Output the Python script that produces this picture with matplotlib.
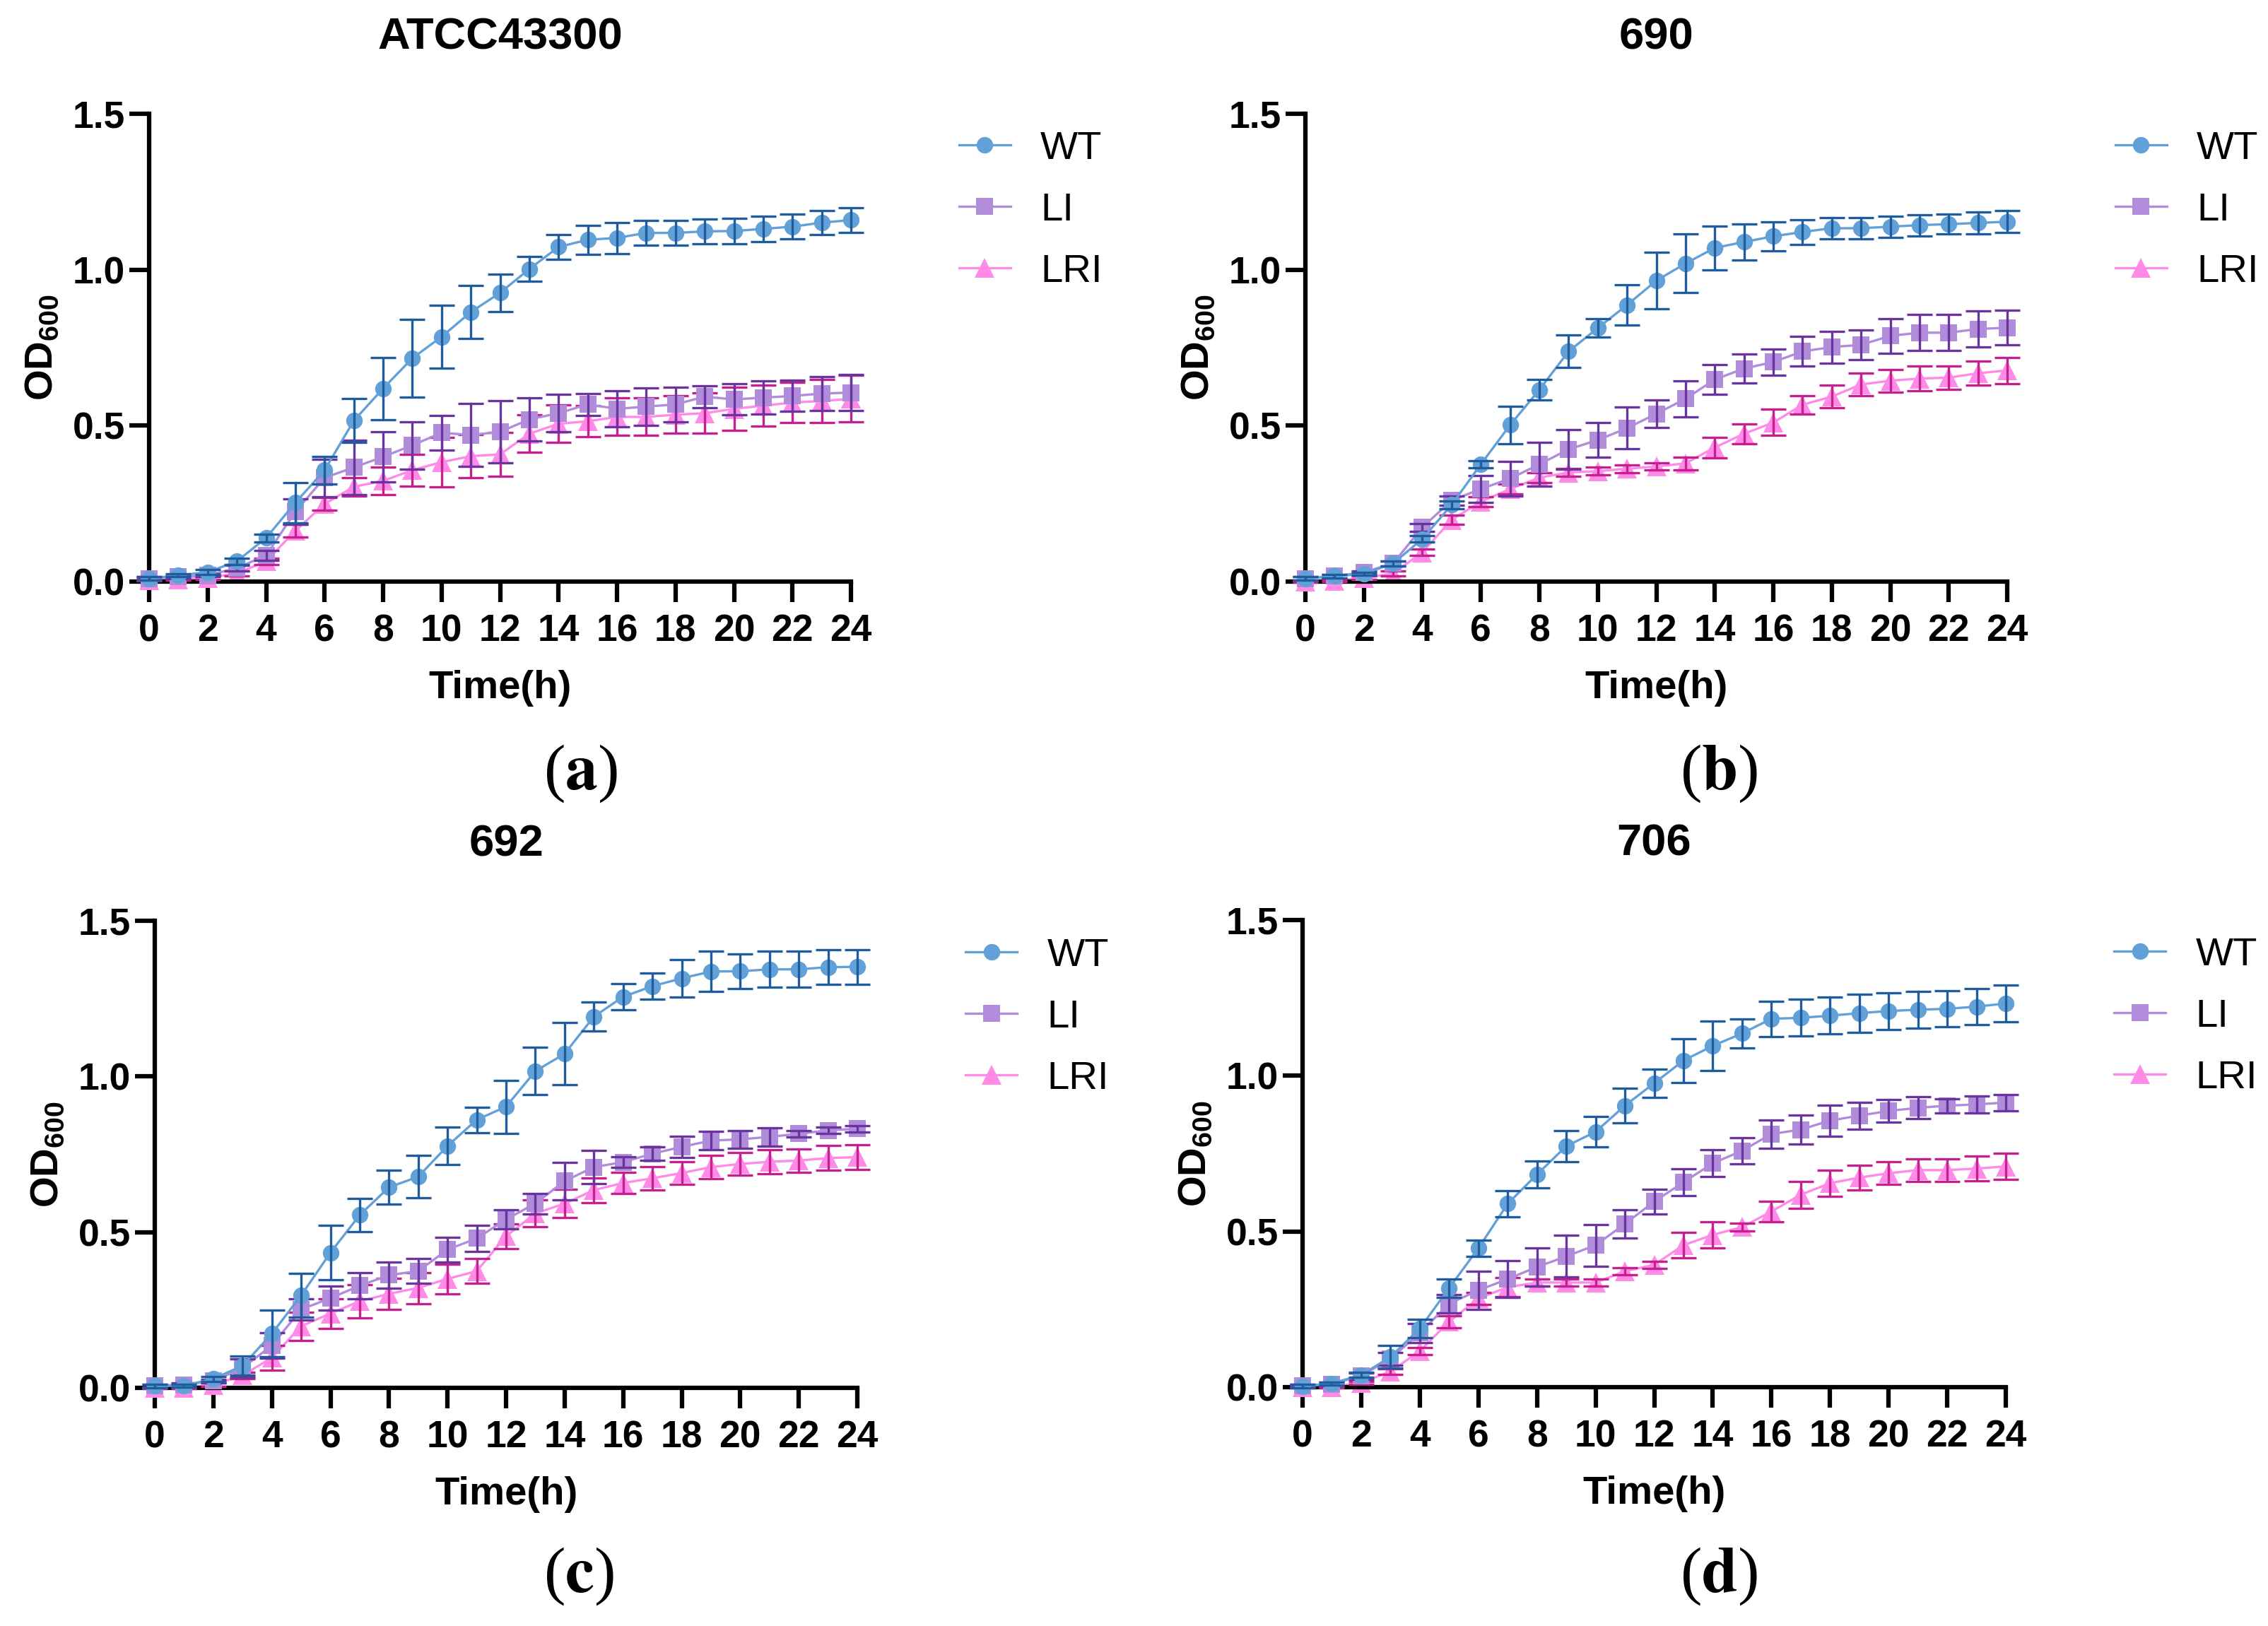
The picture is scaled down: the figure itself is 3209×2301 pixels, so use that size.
import numpy as np
import matplotlib
matplotlib.use("Agg")
import matplotlib.pyplot as plt
from matplotlib.lines import Line2D

plt.rcParams['font.family'] = ['Liberation Sans', 'DejaVu Sans']
plt.rcParams['mathtext.fontset'] = 'custom'
plt.rcParams['mathtext.rm'] = 'Liberation Sans'
plt.rcParams['mathtext.bf'] = 'Liberation Sans:bold'

time_h = list(range(25))
series_names = ["WT", "LI", "LRI"]
panel_titles = ["ATCC43300", "690", "692", "706"]
panel_tags = ["a", "b", "c", "d"]

# ---- panel (a) ATCC43300
WT_a = [0.01,0.02,0.03,0.065,0.14,0.253,0.357,0.516,0.619,0.716,0.785,0.864,0.926,1.002,1.073,1.096,1.102,1.118,1.118,1.123,1.124,1.131,1.138,1.151,1.159]
WT_a_err = [0.005,0.005,0.008,0.01,0.012,0.064,0.045,0.07,0.1,0.124,0.1,0.085,0.06,0.04,0.04,0.047,0.05,0.04,0.04,0.04,0.04,0.04,0.04,0.038,0.04]
LI_a = [0.01,0.015,0.02,0.043,0.084,0.224,0.333,0.366,0.40,0.437,0.477,0.47,0.48,0.52,0.54,0.568,0.554,0.561,0.568,0.593,0.584,0.59,0.595,0.603,0.606]
LI_a_err = [0.005,0.005,0.005,0.01,0.015,0.04,0.06,0.087,0.08,0.076,0.056,0.1,0.1,0.07,0.06,0.035,0.057,0.06,0.055,0.035,0.05,0.053,0.05,0.055,0.057]
LRI_a = [0.005,0.007,0.012,0.026,0.065,0.163,0.249,0.304,0.323,0.357,0.383,0.402,0.408,0.474,0.506,0.514,0.528,0.528,0.535,0.54,0.554,0.564,0.574,0.579,0.586]
LRI_a_err = [0.003,0.003,0.005,0.008,0.01,0.02,0.02,0.03,0.045,0.05,0.08,0.07,0.07,0.06,0.06,0.05,0.06,0.06,0.06,0.065,0.07,0.065,0.065,0.07,0.075]

# ---- panel (b) 690
WT_b = [0.01,0.017,0.025,0.058,0.137,0.246,0.376,0.502,0.615,0.738,0.813,0.887,0.965,1.02,1.07,1.089,1.107,1.121,1.133,1.133,1.138,1.143,1.146,1.15,1.154]
WT_b_err = [0.005,0.005,0.005,0.008,0.01,0.012,0.012,0.06,0.033,0.052,0.03,0.064,0.09,0.094,0.07,0.057,0.047,0.04,0.033,0.035,0.034,0.034,0.032,0.035,0.035]
LI_b = [0.01,0.017,0.03,0.058,0.174,0.26,0.297,0.33,0.376,0.424,0.454,0.492,0.538,0.586,0.648,0.683,0.704,0.738,0.752,0.759,0.788,0.798,0.798,0.81,0.814]
LI_b_err = [0.005,0.005,0.005,0.008,0.012,0.015,0.043,0.055,0.07,0.064,0.056,0.067,0.045,0.058,0.047,0.047,0.042,0.048,0.051,0.047,0.055,0.058,0.058,0.058,0.056]
LRI_b = [0.0,0.003,0.012,0.026,0.094,0.198,0.256,0.297,0.333,0.35,0.354,0.362,0.369,0.379,0.43,0.474,0.51,0.567,0.593,0.632,0.644,0.651,0.654,0.668,0.677]
LRI_b_err = [0.003,0.003,0.005,0.008,0.01,0.015,0.015,0.015,0.015,0.012,0.012,0.012,0.012,0.02,0.033,0.032,0.042,0.03,0.036,0.036,0.036,0.04,0.038,0.038,0.042]

# ---- panel (c) 692
WT_c = [0.006,0.007,0.029,0.071,0.174,0.297,0.434,0.555,0.644,0.678,0.777,0.861,0.903,1.017,1.073,1.192,1.256,1.29,1.315,1.337,1.338,1.344,1.344,1.351,1.352]
WT_c_err = [0.005,0.005,0.008,0.03,0.075,0.07,0.087,0.054,0.054,0.068,0.06,0.041,0.085,0.076,0.1,0.046,0.043,0.043,0.061,0.065,0.056,0.058,0.058,0.056,0.056]
LI_c = [0.007,0.01,0.022,0.064,0.136,0.252,0.288,0.328,0.362,0.375,0.444,0.48,0.541,0.592,0.664,0.709,0.725,0.752,0.774,0.794,0.798,0.806,0.816,0.827,0.832]
LI_c_err = [0.005,0.005,0.005,0.03,0.04,0.035,0.038,0.043,0.043,0.04,0.04,0.043,0.031,0.033,0.06,0.053,0.017,0.022,0.034,0.029,0.029,0.029,0.01,0.01,0.01]
LRI_c = [0.0,0.0,0.01,0.04,0.097,0.198,0.239,0.278,0.302,0.321,0.35,0.375,0.487,0.56,0.592,0.635,0.658,0.673,0.69,0.709,0.719,0.726,0.73,0.738,0.741]
LRI_c_err = [0.003,0.003,0.005,0.01,0.04,0.045,0.048,0.053,0.05,0.05,0.048,0.04,0.04,0.043,0.046,0.04,0.034,0.037,0.037,0.037,0.036,0.039,0.038,0.04,0.04]

# ---- panel (d) 706
WT_d = [0.003,0.012,0.039,0.097,0.188,0.318,0.446,0.589,0.683,0.774,0.82,0.904,0.976,1.049,1.096,1.136,1.183,1.186,1.193,1.201,1.208,1.212,1.215,1.222,1.232]
WT_d_err = [0.005,0.005,0.008,0.036,0.03,0.029,0.027,0.041,0.044,0.05,0.049,0.055,0.045,0.07,0.079,0.047,0.057,0.059,0.059,0.061,0.059,0.059,0.058,0.058,0.059]
LI_d = [0.004,0.01,0.036,0.091,0.174,0.268,0.311,0.347,0.386,0.42,0.456,0.524,0.596,0.658,0.719,0.759,0.813,0.827,0.856,0.872,0.887,0.897,0.904,0.908,0.914]
LI_d_err = [0.005,0.005,0.01,0.02,0.03,0.03,0.061,0.059,0.061,0.067,0.067,0.046,0.04,0.043,0.043,0.043,0.045,0.047,0.05,0.043,0.036,0.035,0.023,0.027,0.026]
LRI_d = [0.0,0.0,0.014,0.05,0.116,0.21,0.285,0.321,0.336,0.336,0.336,0.372,0.393,0.456,0.489,0.514,0.564,0.618,0.655,0.673,0.687,0.697,0.697,0.702,0.709]
LRI_d_err = [0.003,0.003,0.005,0.01,0.012,0.02,0.02,0.03,0.012,0.012,0.012,0.012,0.012,0.04,0.042,0.012,0.033,0.043,0.042,0.04,0.036,0.036,0.036,0.039,0.042]

panels = [
    [(WT_a, WT_a_err), (LI_a, LI_a_err), (LRI_a, LRI_a_err)],
    [(WT_b, WT_b_err), (LI_b, LI_b_err), (LRI_b, LRI_b_err)],
    [(WT_c, WT_c_err), (LI_c, LI_c_err), (LRI_c, LRI_c_err)],
    [(WT_d, WT_d_err), (LI_d, LI_d_err), (LRI_d, LRI_d_err)],
]

line_colors = ['#62a0d8', '#b08cdb', '#ff8ae8']
err_colors = ['#1f5c9e', '#6a349e', '#c4208e']
markers = ['o', 's', '^']
msizes = [5.6, 5.6, 6.8]

W, H = 3209, 2301
fig = plt.figure(figsize=(W / 300, H / 300), dpi=300)

# axes rectangles in pixels: left, top, right, bottom
rects = [(211, 161, 1204, 823), (1847, 161, 2840, 823),
         (219, 1303, 1213, 1964), (1843, 1302, 2838, 1963)]
tag_pos = [(821, 1095), (2432, 1095), (819, 2231), (2432, 2231)]

for i, (l, t, r, b) in enumerate(rects):
    ax = fig.add_axes([l / W, 1 - b / H, (r - l) / W, (b - t) / H])
    # draw LRI first, WT last (on top)
    for k in [2, 1, 0]:
        y, e = panels[i][k]
        ax.plot(time_h, y, marker=markers[k], color=line_colors[k], lw=0.8,
                ms=msizes[k], mew=0, clip_on=False, zorder=2 + 2 * (2 - k))
        ax.errorbar(time_h, y, yerr=e, fmt='none', ecolor=err_colors[k],
                    elinewidth=0.8, capsize=4.4, capthick=0.8, clip_on=False,
                    zorder=3 + 2 * (2 - k))
    ax.set_xlim(0, 24)
    ax.set_ylim(0, 1.5)
    ax.set_xticks(range(0, 25, 2))
    ax.set_yticks([0, 0.5, 1.0, 1.5])
    ax.set_yticklabels(['0.0', '0.5', '1.0', '1.5'])
    for s in ['top', 'right']:
        ax.spines[s].set_visible(False)
    for s in ['left', 'bottom']:
        ax.spines[s].set_linewidth(1.5)
    ax.tick_params(axis='x', length=6.9, width=1.5, pad=4, labelsize=12.8)
    ax.tick_params(axis='y', length=6.7, width=1.5, pad=1.5, labelsize=12.8)
    for lab in ax.get_xticklabels() + ax.get_yticklabels():
        lab.set_fontweight('bold')
    ax.set_xlabel('Time(h)', fontsize=13.5, fontweight='bold', labelpad=7)
    ax.set_ylabel(r'OD$_{\mathbf{600}}$', fontsize=13.5, fontweight='bold', labelpad=4)
    ax.text(0.5, 1.163, panel_titles[i], transform=ax.transAxes, ha='center',
            va='center', fontsize=15.2, fontweight='bold')
    handles = [Line2D([0], [0], color=line_colors[k], marker=markers[k], lw=0.8,
                      ms=msizes[k], mew=0) for k in range(3)]
    ax.legend(handles, series_names, loc='upper left',
              bbox_to_anchor=(1.154, 0.964), frameon=False, fontsize=13.5,
              handlelength=1.3, handletextpad=0.75, labelspacing=0.62,
              borderpad=0, borderaxespad=0)
    tx, ty = tag_pos[i]
    fig.text(tx / W, 1 - ty / H, '(' + r'$\mathbf{' + panel_tags[i] + '}$' + ')',
             ha='center', va='center', fontsize=22, family='Liberation Serif',
             math_fontfamily='stix')

fig.savefig('out.png', dpi=300)
